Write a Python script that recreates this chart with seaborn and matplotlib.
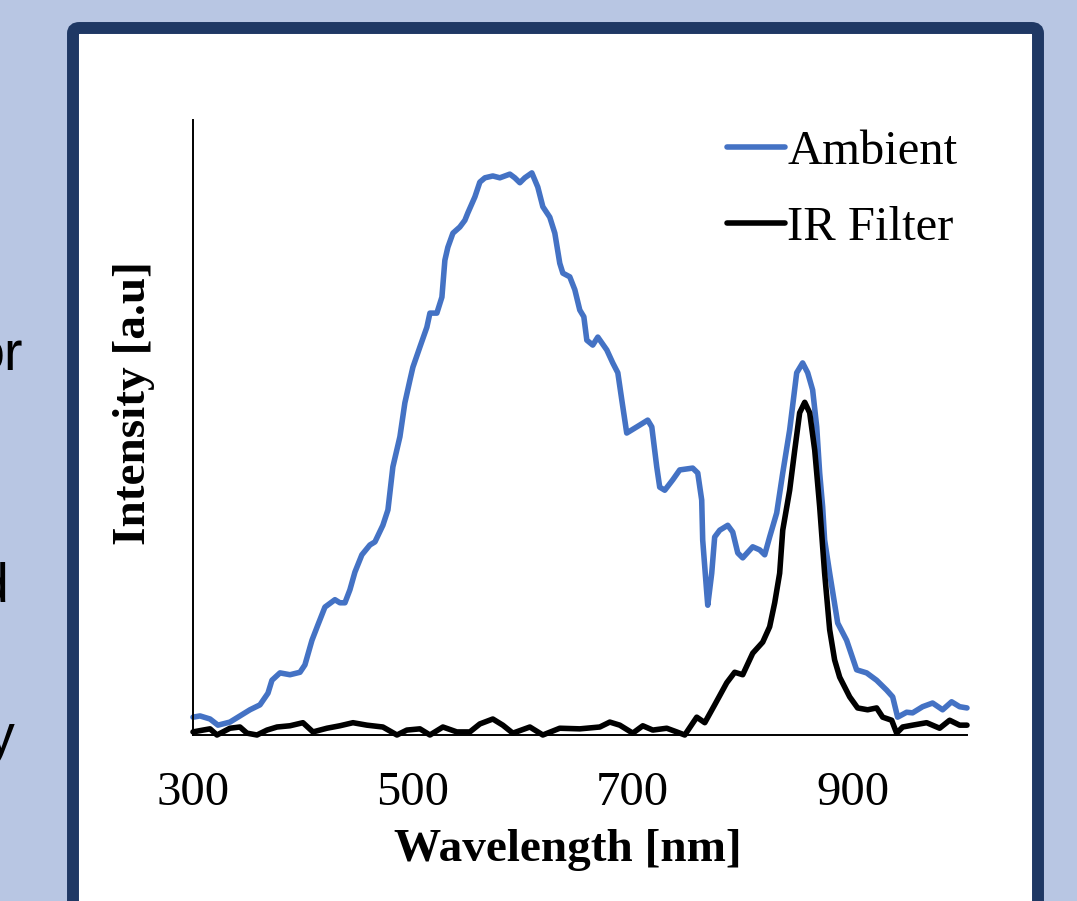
import numpy as np
import pandas as pd
import matplotlib.pyplot as plt
import seaborn as sns
from matplotlib.patches import FancyBboxPatch

# Spectra (wavelength in nm, intensity in a.u.)
ambient_wl = [300, 306.4, 315.5, 322.7, 333.6, 342.7, 351.8, 360.9, 368.2, 371.8,
              379.1, 388.2, 397.3, 401.8, 408.2, 413.6, 420, 429.1, 433.6, 438.2,
              442.7, 447.3, 453.6, 460.9, 465.5, 472.7, 477.3, 481.8, 488.2, 492.7,
              497.3, 500, 506.4, 512.7, 515.5, 521.8, 526.4, 529.1, 531.8, 536.4,
              542.7, 547.3, 550, 556.4, 560.9, 565.5, 572.7, 579.1, 588.2, 592.7,
              597.3, 601.8, 608.2, 613.6, 618.2, 624.5, 629.1, 633.6, 636.4, 642.7,
              647.3, 651.8, 655.5, 658.2, 663.6, 668.2, 676.4, 681.8, 686.4, 690,
              694.5, 706.4, 713.6, 717.3, 721.8, 724.5, 729.1, 736.4, 742.7, 754.5,
              759.1, 762.7, 763.6, 767.3, 768.2, 771.8, 774.5, 779.1, 786.4, 790.9,
              795.5, 800, 809.1, 815.5, 820, 824.5, 830.9, 836.4, 842.7, 849.1,
              854.5, 859.1, 863.6, 867.3, 870, 872.7, 874.5, 879.1, 886.4, 894.5,
              903.6, 912.7, 921.8, 930.9, 936.4, 940.9, 949.1, 954.5, 963.6, 972.7,
              981.8, 990, 997.3, 1004]
ambient_int = [2.9, 3.1, 2.6, 1.6, 2.1, 3.1, 4.1, 4.9, 6.8, 8.9,
               10.1, 9.8, 10.2, 11.4, 15.4, 17.9, 20.8, 22.0, 21.5, 21.5,
               23.6, 26.5, 29.3, 30.9, 31.4, 34.1, 36.6, 43.6, 48.5, 54.0,
               57.7, 59.8, 63.1, 66.3, 68.6, 68.6, 71.2, 77.2, 79.3, 81.6,
               82.6, 83.7, 84.9, 87.5, 89.9, 90.6, 90.9, 90.6, 91.2, 90.6,
               89.8, 90.6, 91.4, 89.1, 85.9, 84.2, 81.6, 76.7, 75.1, 74.5,
               72.4, 69.1, 68.0, 64.2, 63.4, 64.7, 62.6, 60.5, 58.9, 54.5,
               49.1, 50.4, 51.2, 50.1, 43.6, 40.3, 39.8, 41.5, 43.1, 43.4,
               42.6, 38.2, 31.7, 23.1, 21.1, 26.3, 32.2, 33.3, 34.1, 33.0,
               29.6, 28.8, 30.6, 30.1, 29.3, 32.2, 36.1, 42.6, 49.6, 58.9,
               60.5, 58.9, 56.1, 50.1, 42.6, 37.1, 31.7, 26.3, 18.2, 15.4,
               10.6, 10.1, 8.9, 7.3, 6.2, 2.9, 3.7, 3.6, 4.6, 5.2,
               4.1, 5.4, 4.6, 4.4]

irf_wl = [300, 309.1, 315.5, 321.8, 333.6, 342.7, 349.1, 358.2, 367.3, 376.4,
          388.2, 400, 409.1, 421.8, 433.6, 445.5, 458.2, 472.7, 485.5, 494.5,
          506.4, 515.5, 527.3, 540, 551.8, 560.9, 572.7, 581.8, 590.9, 606.4,
          618.2, 633.6, 651.8, 670, 679.1, 688.2, 700, 709.1, 718.2, 730.9,
          740, 747.3, 758.2, 765.5, 774.5, 785.5, 792.7, 800, 809.1, 818.2,
          824.5, 829.1, 833.6, 836.4, 842.7, 847.3, 851.8, 856.4, 860.9, 865.5,
          870, 874.5, 879.1, 883.6, 888.2, 897.3, 904.5, 913.6, 921.8, 927.3,
          935.5, 940, 945.5, 954.5, 967.3, 979.1, 988.2, 997.3, 1004]
irf_int = [0.5, 0.8, 1.0, 0.0, 1.1, 1.3, 0.3, 0.0, 0.8, 1.3,
           1.5, 2.0, 0.5, 1.1, 1.5, 2.0, 1.6, 1.3, 0.0, 0.8,
           1.0, 0.0, 1.3, 0.5, 0.5, 1.8, 2.6, 1.6, 0.3, 1.3,
           0.0, 1.1, 1.0, 1.3, 2.1, 1.6, 0.3, 1.5, 0.8, 1.1,
           0.5, 0.0, 2.9, 2.0, 4.9, 8.5, 10.2, 9.8, 13.3, 15.1,
           17.6, 21.5, 26.3, 33.3, 39.8, 46.3, 52.4, 54.1, 52.4, 46.3,
           37.1, 26.3, 17.1, 12.2, 9.4, 6.2, 4.4, 4.1, 4.4, 2.9,
           2.4, 0.3, 1.3, 1.6, 2.0, 1.1, 2.4, 1.6, 1.6]

series_names = ['Ambient', 'IR Filter']
x_ticks = [300, 500, 700, 900]

df = pd.concat([
    pd.DataFrame({'wl': ambient_wl, 'I': ambient_int, 'series': series_names[0]}),
    pd.DataFrame({'wl': irf_wl, 'I': irf_int, 'series': series_names[1]}),
])

sns.set_style('white')
plt.rcParams['font.family'] = ['Liberation Serif', 'DejaVu Serif']
plt.rcParams['text.color'] = 'black'
plt.rcParams['axes.labelcolor'] = 'black'
plt.rcParams['xtick.color'] = 'black'

fig = plt.figure(figsize=(10.77, 9.01), dpi=100)
fig.patch.set_facecolor('#b8c6e3')

W, H = 1077, 901
# dark frame with white inside, behind the axes
frame = FancyBboxPatch((73 / W, -0.05), (1038 - 73) / W, (901 - 28) / H + 0.05,
                       boxstyle='round,pad=0,rounding_size=0.006',
                       transform=fig.transFigure, facecolor='white',
                       edgecolor='#1f3864', linewidth=8.6, zorder=-5)
fig.add_artist(frame)

# cut-off slide text on the left
side_font = ['Liberation Sans', 'DejaVu Sans']
fig.text(23 / W, 1 - 370 / H, 'or', ha='right', va='baseline',
         fontsize=40, family=side_font, color='black')
fig.text(8 / W, 1 - 602 / H, 'd', ha='right', va='baseline',
         fontsize=40, family=side_font, color='black')
fig.text(15 / W, 1 - 753 / H, 'y', ha='right', va='baseline',
         fontsize=40, family=side_font, color='black')

ax = fig.add_axes([193 / W, 1 - 735 / H, (967 - 193) / W, (735 - 120) / H])
ax.set_zorder(2)
ax.patch.set_alpha(0)

sns.lineplot(data=df, x='wl', y='I', hue='series', hue_order=series_names,
             palette={'Ambient': '#4472c4', 'IR Filter': 'black'},
             estimator=None, sort=False, linewidth=4.0, legend=False, ax=ax)
for ln in ax.lines:
    ln.set_clip_on(False)
    ln.set_solid_capstyle('round')
    ln.set_solid_joinstyle('round')

ax.set_xlim(300, 1004)
ax.set_ylim(0, 100)
ax.set_xticks(x_ticks)
ax.set_xticklabels([str(t) for t in x_ticks], fontsize=35)
ax.set_yticks([])
ax.tick_params(axis='x', length=0, pad=26)
for side in ['top', 'right']:
    ax.spines[side].set_visible(False)
for side in ['left', 'bottom']:
    ax.spines[side].set_color('black')
    ax.spines[side].set_linewidth(1.4)

ax.set_xlabel('Wavelength [nm]', fontsize=34, fontweight='bold', labelpad=0)
ax.set_ylabel('Intensity [a.u]', fontsize=34, fontweight='bold')
ax.xaxis.set_label_coords((568 - 193) / (967 - 193), -(829 - 735) / (735 - 120))
ax.yaxis.set_label_coords(-(193 - 155) / (967 - 193), (735 - 403) / (735 - 120))

handles = ax.lines[:2]
leg = ax.legend(handles, series_names, loc='upper right', frameon=False,
                fontsize=35, handlelength=1.2, handletextpad=0.05,
                labelspacing=0.65, bbox_to_anchor=(1.013, 1.015), borderaxespad=0)

fig.savefig('out.png', dpi=100, facecolor=fig.get_facecolor())
